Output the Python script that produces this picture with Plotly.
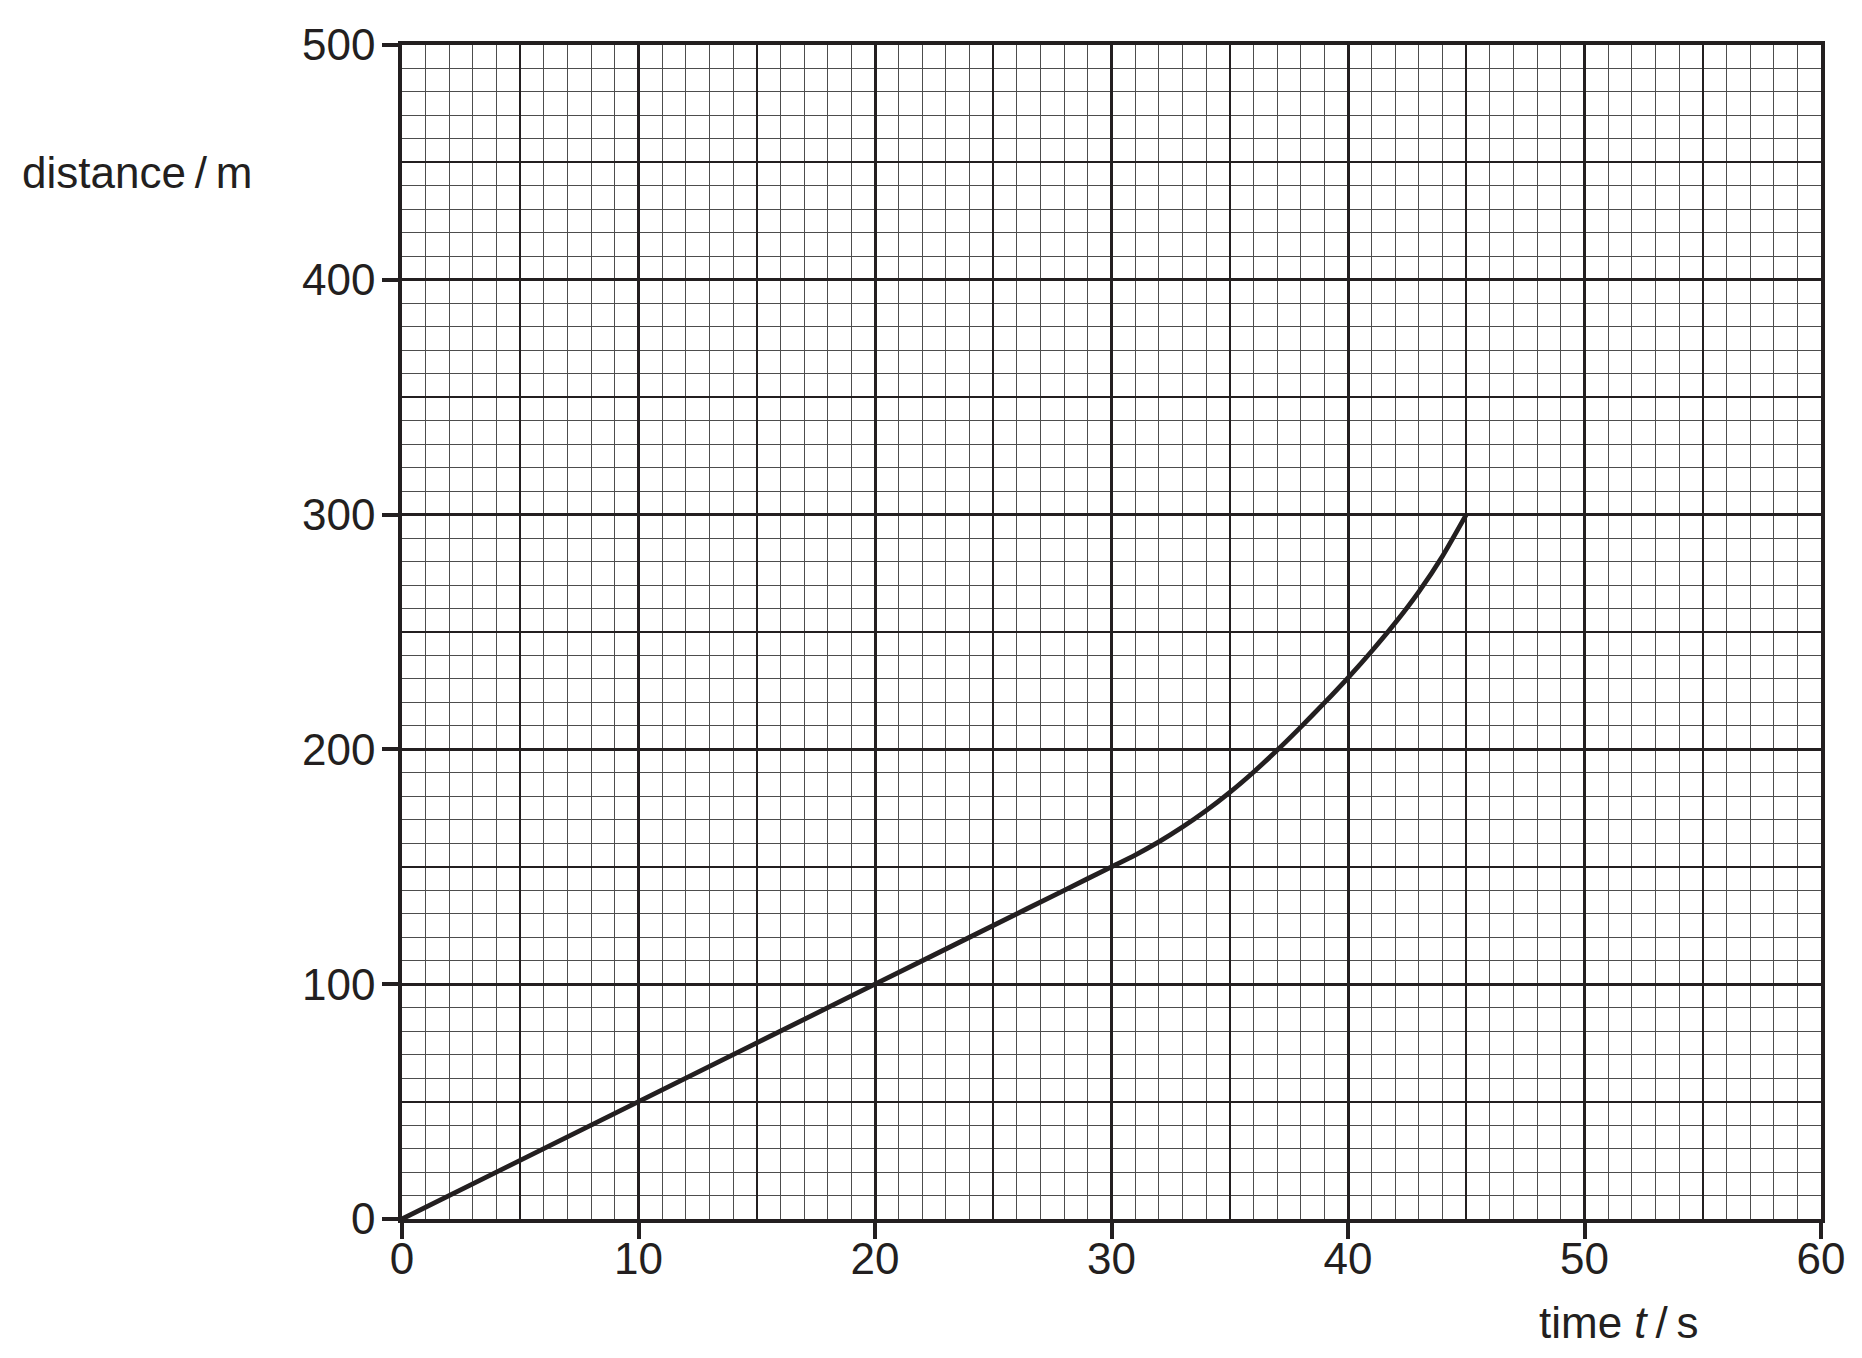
# -*- coding: utf-8 -*-

import plotly.graph_objects as go

# distance-time data
time_s = [0, 10, 20, 25, 28, 30, 31, 32, 33, 34, 35, 36, 37, 38, 39, 40,
          41, 42, 43, 44, 45]
distance_m = [0, 50, 100, 125, 140, 150, 155, 160.6, 166.9, 173.9, 181.7,
              190.3, 199.6, 209.5, 219.8, 230.5, 241.8, 253.9, 267.2, 282.4,
              300]

x_ticks = [0, 10, 20, 30, 40, 50, 60]
y_ticks = [0, 100, 200, 300, 400, 500]

INK = "#231f20"
FONT = "Liberation Sans, Arial, sans-serif"
SIZE = 44


def create_trace(x_values, y_values):
    trace = go.Scatter(
        x=x_values,
        y=y_values,
        mode="lines",
        line=dict(color=INK, width=4.8, shape="spline", smoothing=0.6),
        showlegend=False,
        hoverinfo="skip",
    )
    return trace


def main_axis(ticks, minor_step, standoff):
    return dict(
        range=[ticks[0], ticks[-1]],
        tickvals=ticks,
        ticks="outside",
        ticklen=16,
        tickwidth=3.5,
        tickcolor=INK,
        tickfont=dict(size=SIZE, color=INK, family=FONT),
        ticklabelstandoff=standoff,
        showline=True,
        linewidth=3.5,
        linecolor=INK,
        mirror=True,
        showgrid=True,
        gridcolor=INK,
        gridwidth=2.5,
        zeroline=False,
        minor=dict(dtick=minor_step, showgrid=True, gridcolor="#4d4d4d",
                   gridwidth=1.3, ticks=""),
        fixedrange=True,
    )


def mid_axis(ticks, step, overlay, anchor):
    # second set of grid lines every 5 s / 50 m
    return dict(
        range=[ticks[0], ticks[-1]],
        dtick=step,
        tick0=0,
        overlaying=overlay,
        anchor=anchor,
        showgrid=True,
        gridcolor=INK,
        gridwidth=1.5,
        showticklabels=False,
        ticks="",
        showline=False,
        zeroline=False,
        fixedrange=True,
    )


fig = go.Figure()
fig.add_trace(go.Scatter(x=[], y=[], xaxis="x2", yaxis="y2", showlegend=False))
fig.add_trace(create_trace(time_s, distance_m))

# the page body adds an 8 px margin, so the figure is 8 px smaller and shifted
fig.update_layout(
    width=1854,
    height=1350,
    margin=dict(l=394, r=41, t=31, b=139),
    paper_bgcolor="white",
    plot_bgcolor="white",
    font=dict(family=FONT, color=INK),
    xaxis=main_axis(x_ticks, 1, -18),
    yaxis=main_axis(y_ticks, 10, -2),
    xaxis2=mid_axis(x_ticks, 5, "x", "y2"),
    yaxis2=mid_axis(y_ticks, 50, "y", "x2"),
    annotations=[
        dict(text="distance\u2009/\u2009m", xref="paper", yref="paper",
             x=-0.2695, y=0.8915, xanchor="left", yanchor="middle",
             showarrow=False, font=dict(size=SIZE, color=INK, family=FONT)),
        dict(text="time <i>t</i>\u2009/\u2009s", xref="paper", yref="paper",
             x=0.9147, y=-0.088, xanchor="right", yanchor="middle",
             showarrow=False, font=dict(size=SIZE, color=INK, family=FONT)),
    ],
)

fig.write_html("out.html")
